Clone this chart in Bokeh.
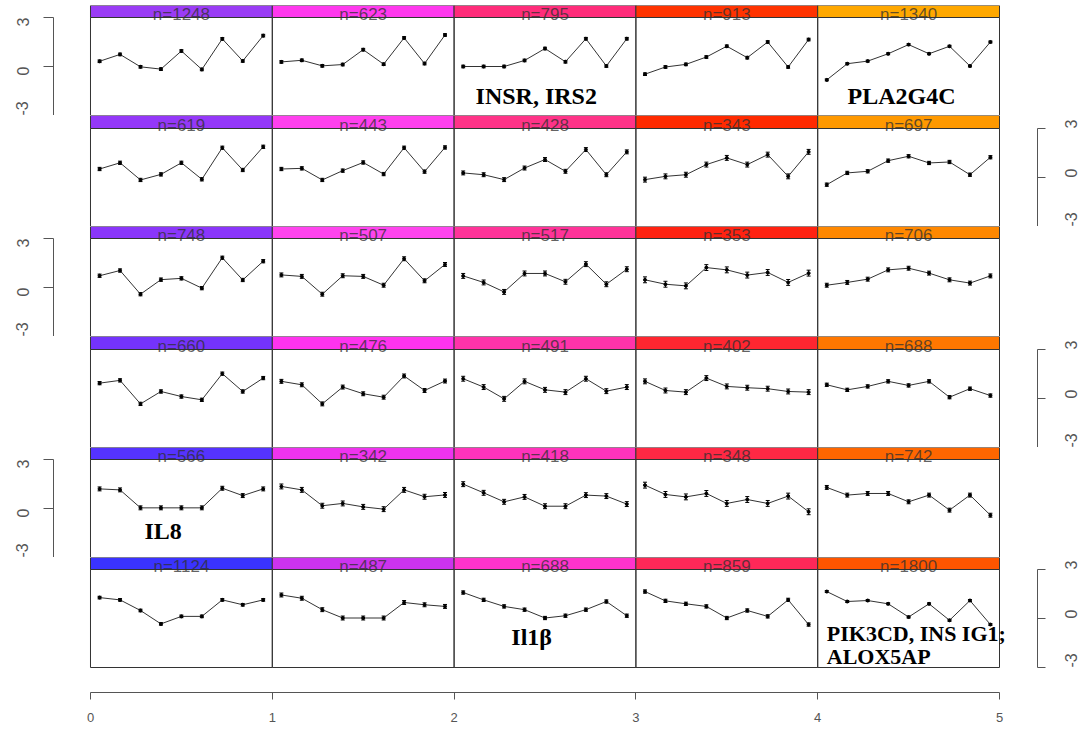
import math
from bokeh.plotting import figure
from bokeh.models import Range1d, LinearAxis, FixedTicker, Whisker, ColumnDataSource, TeeHead
from bokeh.layouts import column
from bokeh.embed import file_html
from bokeh.resources import INLINE
from bokeh.core.properties import value

# ---------------- data ----------------
n_labels = [
    [1248, 623, 795, 913, 1340],
    [619, 443, 428, 343, 697],
    [748, 507, 517, 353, 706],
    [660, 476, 491, 402, 688],
    [566, 342, 418, 348, 742],
    [1124, 487, 688, 859, 1800],
]

bar_colors = [
    ["#9a3cf5", "#ff38ee", "#ff2c7a", "#ff3300", "#ffa800"],
    ["#9438f8", "#ff40ee", "#ff3388", "#ff2a00", "#ff9900"],
    ["#8a36fa", "#ff44ee", "#ff3399", "#ff2211", "#ff8800"],
    ["#7433fc", "#ff33ee", "#ff33aa", "#ff2630", "#ff7700"],
    ["#5533ff", "#ee33ee", "#ff33bb", "#ff2844", "#ff6600"],
    ["#3a33ff", "#cc33ee", "#ff33cc", "#ff2858", "#ff5500"],
]

row1 = [
    [0.32, 0.74, -0.02, -0.16, 0.95, -0.18, 1.69, 0.34, 1.89],
    [0.28, 0.38, 0.04, 0.12, 1.03, 0.14, 1.75, 0.18, 1.93],
    [0.0, 0.0, 0.0, 0.37, 1.10, 0.29, 1.70, 0.03, 1.70],
    [-0.47, -0.03, 0.13, 0.58, 1.24, 0.54, 1.50, -0.03, 1.65],
    [-0.82, 0.17, 0.33, 0.78, 1.34, 0.78, 1.24, 0.03, 1.50],
]
row2 = [
    [0.52, 0.90, -0.15, 0.19, 0.90, -0.11, 1.82, 0.46, 1.88],
    [0.52, 0.56, -0.15, 0.42, 0.92, 0.21, 1.82, 0.36, 1.84],
    [0.28, 0.17, -0.13, 0.58, 1.10, 0.38, 1.71, 0.17, 1.57],
    [-0.13, 0.07, 0.17, 0.79, 1.20, 0.79, 1.40, 0.07, 1.57],
    [-0.44, 0.28, 0.38, 1.03, 1.30, 0.89, 0.95, 0.17, 1.24],
]
row3 = [
    [0.72, 1.04, -0.41, 0.48, 0.56, -0.04, 1.82, 0.46, 1.61],
    [0.77, 0.68, -0.41, 0.72, 0.68, 0.14, 1.76, 0.41, 1.41],
    [0.71, 0.31, -0.27, 0.86, 0.86, 0.35, 1.43, 0.20, 1.12],
    [0.47, 0.20, 0.10, 1.22, 1.08, 0.76, 0.92, 0.31, 0.88],
    [0.14, 0.31, 0.51, 1.08, 1.18, 0.88, 0.47, 0.27, 0.71],
]
row4 = [
    [0.94, 1.11, -0.33, 0.43, 0.12, -0.08, 1.52, 0.43, 1.25],
    [1.05, 0.84, -0.33, 0.70, 0.29, 0.08, 1.38, 0.49, 1.07],
    [1.21, 0.70, -0.02, 1.05, 0.53, 0.39, 1.21, 0.45, 0.70],
    [1.05, 0.49, 0.39, 1.25, 0.74, 0.66, 0.60, 0.43, 0.39],
    [0.84, 0.53, 0.74, 1.05, 0.80, 1.05, 0.08, 0.60, 0.18],
]
row5 = [
    [1.20, 1.14, 0.04, 0.04, 0.04, 0.04, 1.24, 0.79, 1.20],
    [1.35, 1.14, 0.17, 0.31, 0.10, -0.04, 1.14, 0.72, 0.83],
    [1.49, 0.96, 0.41, 0.71, 0.14, 0.14, 0.82, 0.76, 0.27],
    [1.43, 0.86, 0.71, 0.92, 0.31, 0.55, 0.31, 0.76, -0.20],
    [1.29, 0.82, 0.92, 0.92, 0.41, 0.82, -0.10, 0.82, -0.41],
]
row6 = [
    [1.28, 1.14, 0.49, -0.33, 0.13, 0.13, 1.14, 0.84, 1.14],
    [1.44, 1.24, 0.54, 0.03, 0.03, 0.03, 0.98, 0.84, 0.74],
    [1.59, 1.14, 0.74, 0.54, 0.03, 0.17, 0.54, 1.04, 0.17],
    [1.65, 1.08, 0.90, 0.74, 0.03, 0.49, 0.13, 1.14, -0.37],
    [1.65, 1.04, 1.10, 0.90, 0.09, 0.90, -0.11, 1.10, -0.37],
]
rows = [row1, row2, row3, row4, row5, row6]

errs = [
    [0.08, 0.08, 0.08, 0.08, 0.06],
    [0.10, 0.10, 0.12, 0.15, 0.10],
    [0.10, 0.12, 0.15, 0.18, 0.12],
    [0.10, 0.12, 0.15, 0.15, 0.10],
    [0.12, 0.15, 0.15, 0.18, 0.12],
    [0.08, 0.12, 0.10, 0.10, 0.06],
]

# relative position of the 9 time points inside a unit-wide panel
point_offsets = [0.05 + 0.1125 * j for j in range(9)]

gene_labels = ["INSR, IRS2", "PLA2G4C", "IL8", "Il1\u03b2", "PIK3CD, INS IG1;", "ALOX5AP"]
gene_row = [0, 0, 4, 5, 5, 5]
gene_x = [2.118, 4.164, 0.297, 2.315, 4.05, 4.05]
gene_y = [-1.8, -1.8, -1.4, -1.15, -0.92, -2.3]
gene_size = ["24px", "24px", "24px", "24px", "22px", "22px"]

# ---------------- layout constants ----------------
X0, X1 = -0.2035, 5.209
PX_PER_UNIT = 98 / 6.0
frame_heights = [110, 111, 110, 111, 110, 135]
AX_COLOR = "#555555"

figs = []
for r in range(6):
    last = r == 5
    fh = frame_heights[r]
    bar_px = 12 if last else fh - 98
    top = 3 + bar_px / PX_PER_UNIT
    bottom = -3 - (fh - 98 - bar_px) / PX_PER_UNIT
    p = figure(frame_width=984, frame_height=fh,
               x_range=Range1d(X0, X1), y_range=Range1d(bottom, top),
               x_axis_type=None, y_axis_type=None, toolbar_location=None,
               output_backend="svg", min_border_left=53, min_border_right=47,
               min_border_top=5 if r == 0 else 0,
               min_border_bottom=40 if last else 0)
    p.outline_line_color = None
    p.background_fill_color = "white"
    p.border_fill_color = "white"

    cols = list(range(5))
    rights = [c + 1 for c in cols]
    # panel boxes
    p.quad(left=cols, right=rights, bottom=-3, top=3, fill_color=None,
           line_color="#333333", line_width=1)
    # header strips
    p.quad(left=cols, right=rights, bottom=3, top=top, fill_color=bar_colors[r],
           line_color="#333333", line_width=1)
    p.text(x=[c + 0.5 for c in cols], y=[3 + 3 / PX_PER_UNIT] * 5,
           text=[f"n={n}" for n in n_labels[r]], text_align="center",
           text_baseline="alphabetic", text_font=value("Liberation Sans"),
           text_font_size="17px", text_color="#303030", text_alpha=0.75)

    for c in range(5):
        ys = rows[r][c]
        e = errs[r][c]
        xs = [c + s for s in point_offsets]
        src = ColumnDataSource(dict(x=xs, y=ys,
                                    upper=[v + e for v in ys],
                                    lower=[v - e for v in ys]))
        p.line("x", "y", source=src, line_color="#333333", line_width=1)
        p.add_layout(Whisker(source=src, base="x", upper="upper", lower="lower",
                             line_color="black", line_width=1,
                             upper_head=TeeHead(size=4, line_color="black", line_width=1),
                             lower_head=TeeHead(size=4, line_color="black", line_width=1)))
        p.scatter("x", "y", source=src, size=3, color="black")

    # gene labels
    idx = [i for i, gr in enumerate(gene_row) if gr == r]
    for i in idx:
        p.text(x=[gene_x[i]], y=[gene_y[i]], text=[gene_labels[i]],
               text_align="left", text_baseline="alphabetic",
               text_font=value("Liberation Serif"), text_font_style="bold",
               text_font_size=gene_size[i], text_color="black")

    side = "left" if r % 2 == 0 else "right"
    ax = LinearAxis(ticker=FixedTicker(ticks=[-3, 0, 3]), bounds=(-3, 3),
                    major_label_orientation=math.pi / 2,
                    major_tick_out=10 if side == "left" else 8, major_tick_in=0,
                    minor_tick_line_color=None, axis_line_color=AX_COLOR,
                    major_tick_line_color=AX_COLOR, major_label_text_color=AX_COLOR,
                    major_label_text_font="Liberation Sans",
                    major_label_text_font_size="16px",
                    major_label_standoff=21 if side == "left" else 25,
                    major_label_overrides={-3: "-3", 0: "0", 3: "3"})
    p.add_layout(ax, side)

    if last:
        bx = LinearAxis(ticker=FixedTicker(ticks=[0, 1, 2, 3, 4, 5]), bounds=(0, 5),
                        major_tick_out=7, major_tick_in=0, minor_tick_line_color=None,
                        axis_line_color=AX_COLOR, major_tick_line_color=AX_COLOR,
                        major_label_text_color=AX_COLOR,
                        major_label_text_font="Liberation Sans",
                        major_label_text_font_size="13px", major_label_standoff=13)
        p.add_layout(bx, "below")
    figs.append(p)

layout = column(*figs, spacing=0)
open("out.html", "w").write(file_html(layout, INLINE))
